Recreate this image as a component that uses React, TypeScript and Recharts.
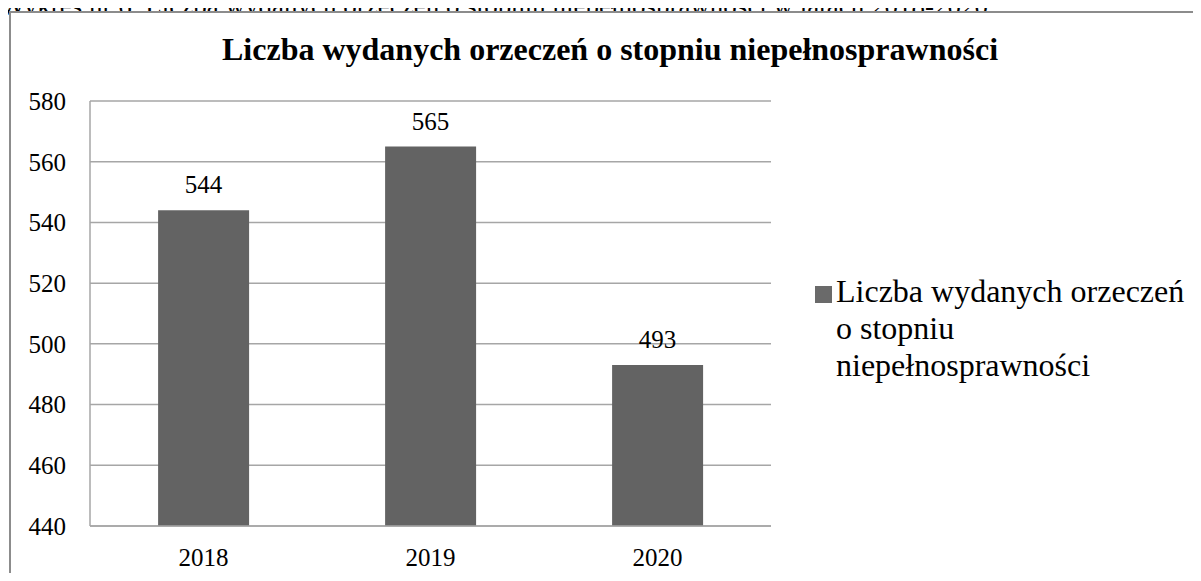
import React from 'react';
import { BarChart, Bar, XAxis, YAxis, CartesianGrid, LabelList } from 'recharts';

const years = ['2018', '2019', '2020'];
const decisions = [544, 565, 493];
const yTicks = [440, 460, 480, 500, 520, 540, 560, 580];

const legendLines = ['Liczba wydanych orzeczeń', 'o stopniu', 'niepełnosprawności'];
const chartTitle = 'Liczba wydanych orzeczeń o stopniu niepełnosprawności';
const caption =
  'Wykres nr 6. Liczba wydanych orzeczeń o stopniu niepełnosprawności w latach 2018-2020';

const data = years.map((year, i) => ({ year, value: decisions[i] }));

const FONT = 'Liberation Serif, Times New Roman, serif';
const BAR = '#636363';
const GRID = '#a6a6a6';

export default function App() {
  return (
    <div
      style={{
        position: 'relative',
        width: 1201,
        height: 581,
        margin: -8,
        overflow: 'hidden',
        background: '#fff',
        fontFamily: FONT,
      }}
    >
      {/* caption cut off by the top of the page */}
      <div
        style={{
          position: 'absolute',
          left: 0,
          top: -7,
          fontSize: 27,
          lineHeight: '27px',
          whiteSpace: 'nowrap',
          color: '#000',
        }}
      >
        {caption}
      </div>

      {/* chart frame */}
      <div
        style={{
          position: 'absolute',
          left: 9,
          top: 11,
          width: 1300,
          height: 700,
          border: '2px solid #8c8c8c',
          background: '#fff',
        }}
      />

      <div
        style={{
          position: 'absolute',
          left: 0,
          top: 31,
          width: 1220,
          textAlign: 'center',
          fontSize: 32,
          fontWeight: 'bold',
          whiteSpace: 'nowrap',
        }}
      >
        {chartTitle}
      </div>

      {/* legend */}
      <div
        style={{
          position: 'absolute',
          left: 815,
          top: 273,
          display: 'flex',
          fontSize: 32,
          lineHeight: '37px',
          color: '#000',
        }}
      >
        <span
          style={{
            display: 'inline-block',
            width: 17,
            height: 17,
            background: '#6a6a6a',
            marginTop: 13,
            marginRight: 4,
            flexShrink: 0,
          }}
        />
        <span>
          {legendLines.map((l) => (
            <div key={l}>{l}</div>
          ))}
        </span>
      </div>

      <div style={{ position: 'absolute', left: 0, top: 0 }}>
        <BarChart
          width={1201}
          height={581}
          data={data}
          margin={{ top: 101, right: 430, bottom: 0, left: 0 }}
          barCategoryGap="30%"
          style={{ fontFamily: FONT }}
        >
          <CartesianGrid vertical={false} stroke={GRID} strokeWidth={1.5} />
          <XAxis
            dataKey="year"
            height={55}
            stroke={GRID}
            strokeWidth={1.5}
            tickLine={false}
            tickSize={0}
            tickMargin={22}
            tick={{ fill: '#000', fontSize: 25, fontFamily: FONT }}
          />
          <YAxis
            width={90}
            domain={[440, 580]}
            ticks={yTicks}
            stroke={GRID}
            strokeWidth={1.5}
            tickLine={false}
            tickSize={0}
            tickMargin={24}
            tick={{ fill: '#000', fontSize: 25, fontFamily: FONT }}
          />
          <Bar dataKey="value" fill={BAR} isAnimationActive={false}>
            <LabelList
              dataKey="value"
              position="top"
              offset={17}
              fill="#000"
              fontSize={25}
              fontFamily={FONT}
            />
          </Bar>
        </BarChart>
      </div>
    </div>
  );
}
